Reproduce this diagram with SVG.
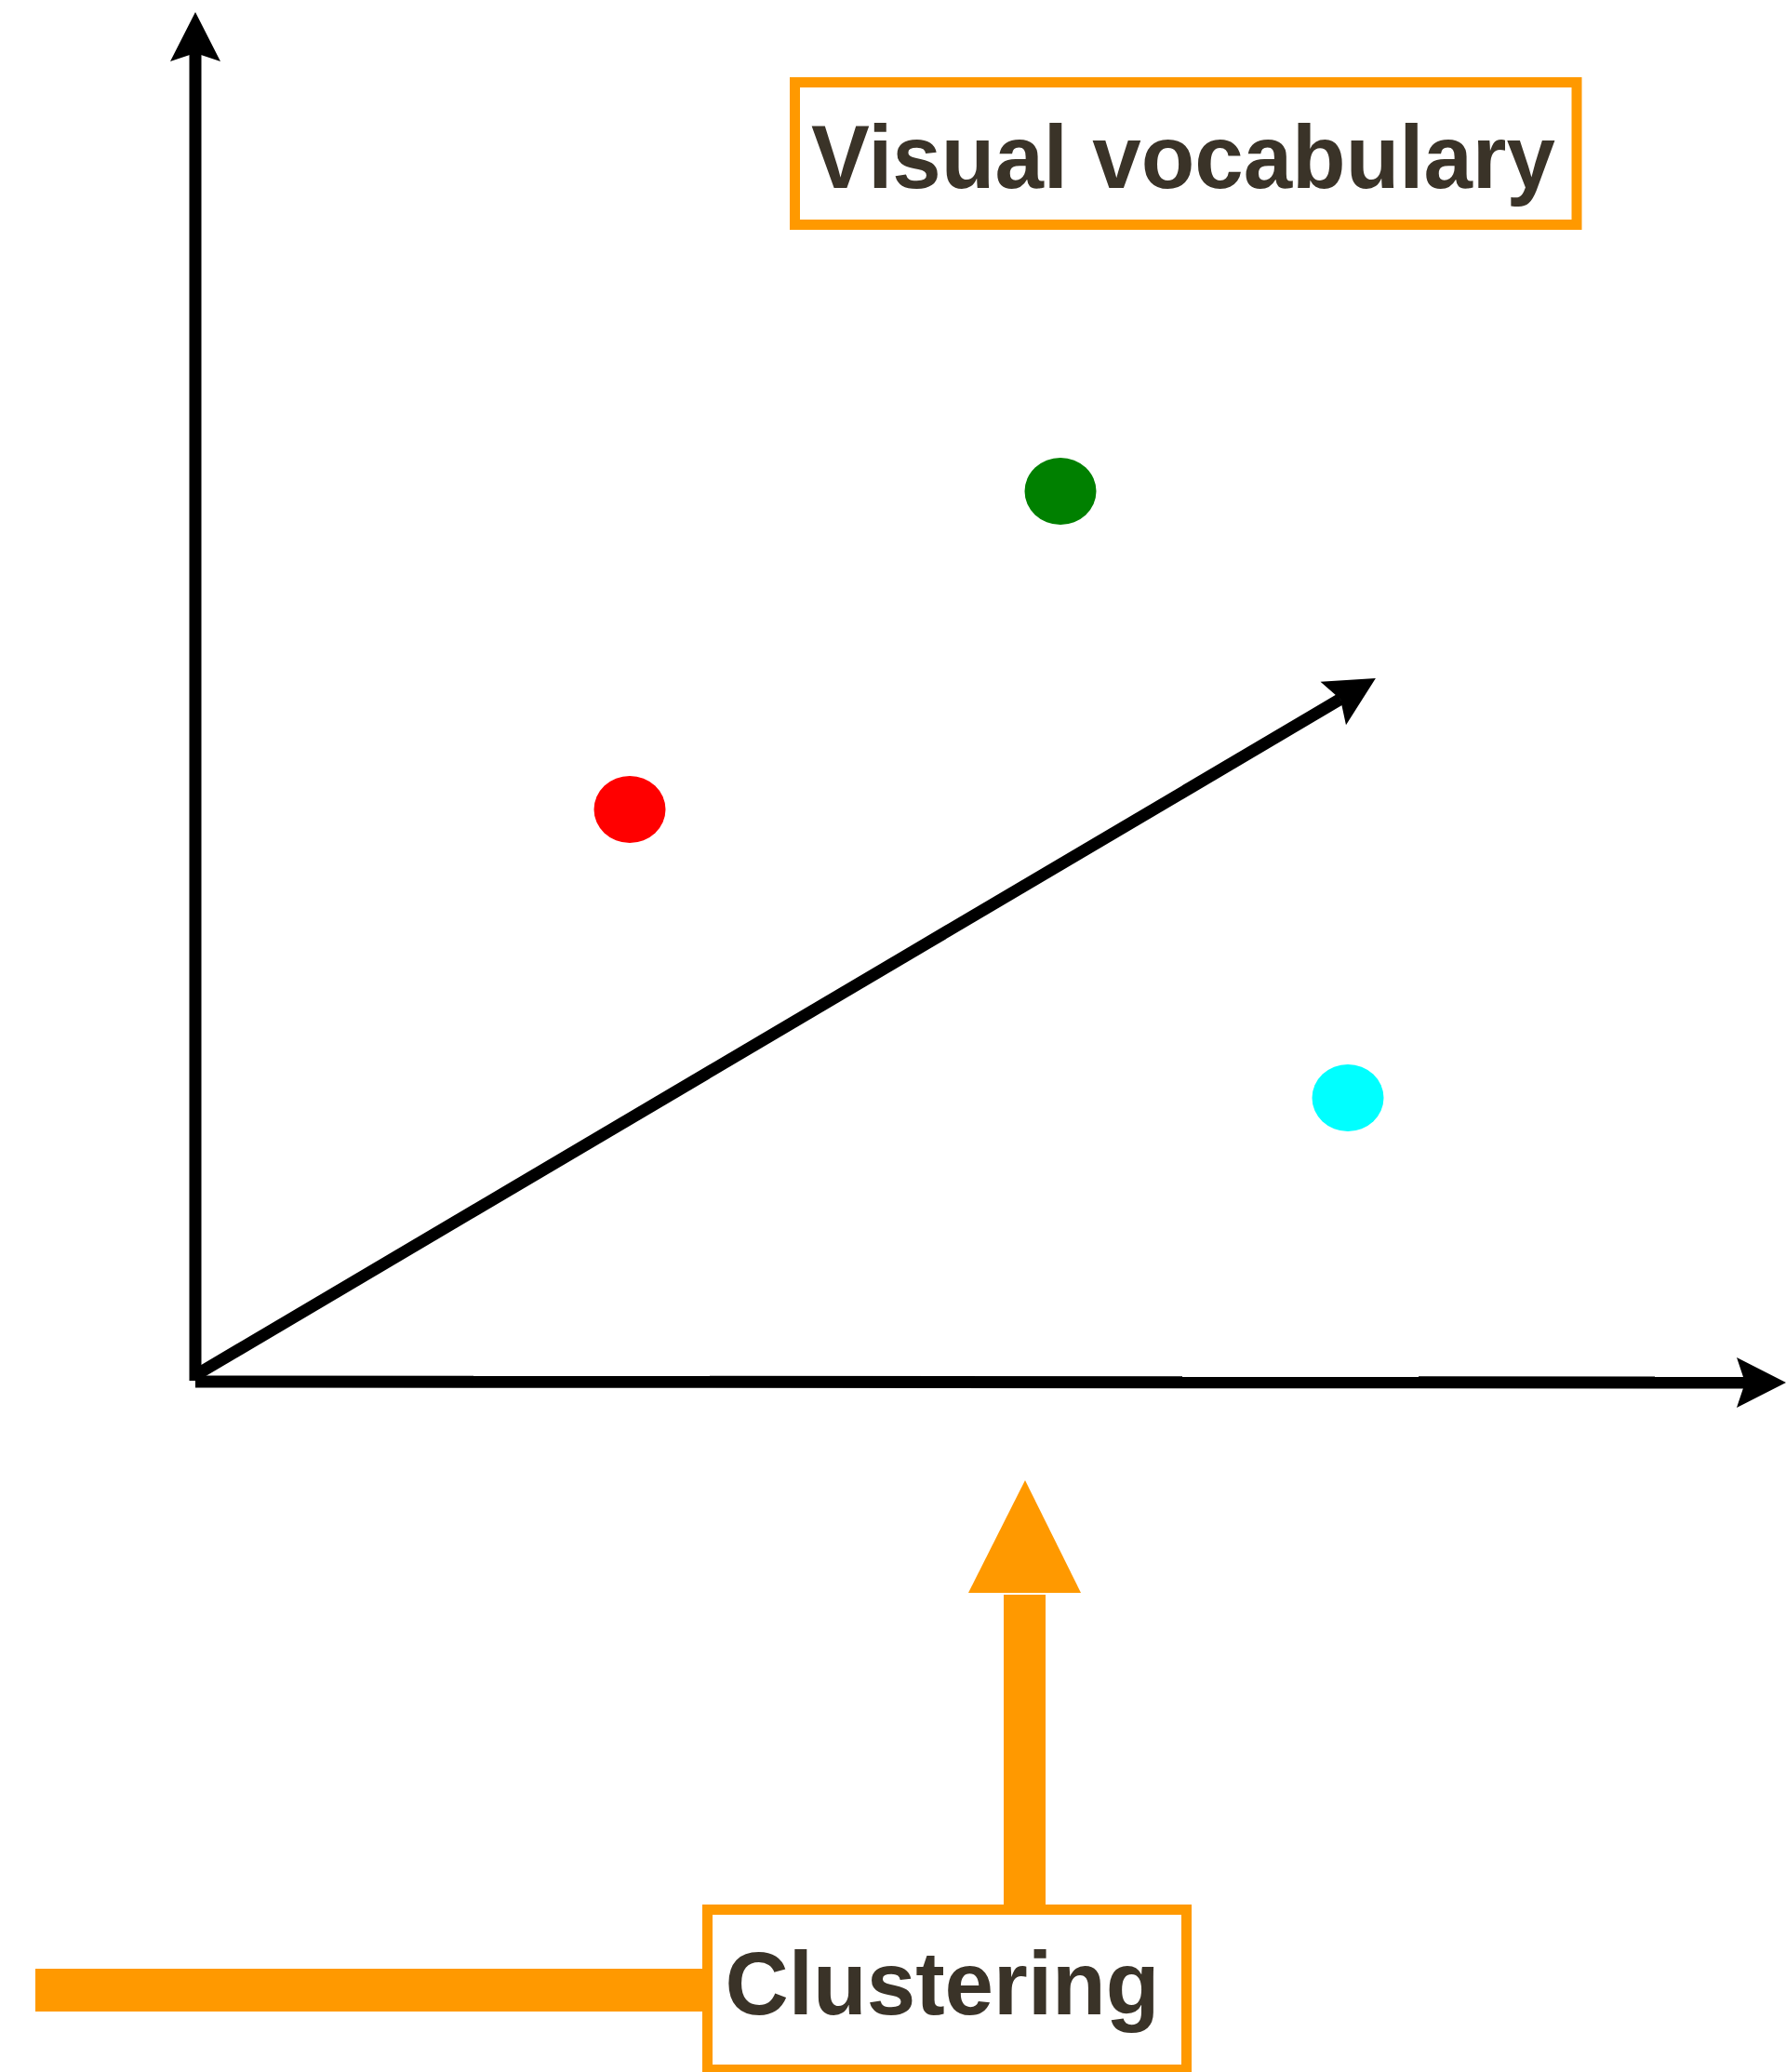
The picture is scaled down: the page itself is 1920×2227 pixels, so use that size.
<svg xmlns="http://www.w3.org/2000/svg" width="1920" height="2227" viewBox="0 0 1920 2227">
  <style>
    .axis { stroke: #000000; stroke-width: 13; fill: none; marker-end: url(#blackHead); }
    .box { fill: #ffffff; stroke: #FF9900; stroke-width: 11; }
    .label { font-family: "Liberation Sans", Arial, Helvetica, sans-serif; font-weight: bold; font-size: 97px; fill: #3a3328; text-anchor: middle; }
    .orange { fill: #FF9900; }
  </style>
  <defs>
    <marker id="blackHead" markerUnits="userSpaceOnUse" markerWidth="100" markerHeight="100" refX="0" refY="0" orient="auto" overflow="visible">
      <path d="M44,0 L-9,-27 L0,0 L-9,27 Z" fill="#000000"/>
    </marker>
  </defs>
  <rect width="1920" height="2227" fill="#ffffff"/>
  <g id="connectors">
    <line class="axis" x1="210" y1="1484" x2="210" y2="57"/>
    <line class="axis" x1="210" y1="1485" x2="1876" y2="1486"/>
    <line class="axis" x1="212" y1="1477" x2="1441" y2="751.4"/>
    <rect class="orange" x="38" y="2116" width="720" height="46"/>
    <rect class="orange" x="1079" y="1714" width="45" height="336"/>
    <polygon class="orange" points="1102,1591 1041,1712 1162,1712"/>
  </g>
  <g id="node-visual-vocabulary">
    <rect class="box" x="854.5" y="88.5" width="840.5" height="153"/>
    <text class="label" x="1272" y="202" textLength="800" lengthAdjust="spacingAndGlyphs">Visual vocabulary</text>
  </g>
  <g id="node-green">
    <ellipse cx="1140" cy="528" rx="38.5" ry="36" fill="#008000"/>
  </g>
  <g id="node-red">
    <ellipse cx="677" cy="870" rx="38.5" ry="36" fill="#FF0000"/>
  </g>
  <g id="node-cyan">
    <ellipse cx="1449" cy="1180" rx="38.5" ry="36" fill="#00FFFF"/>
  </g>
  <g id="node-clustering">
    <rect class="box" x="760.5" y="2052.5" width="515" height="172"/>
    <text class="label" x="1013" y="2165" textLength="467" lengthAdjust="spacingAndGlyphs">Clustering</text>
  </g>
</svg>
